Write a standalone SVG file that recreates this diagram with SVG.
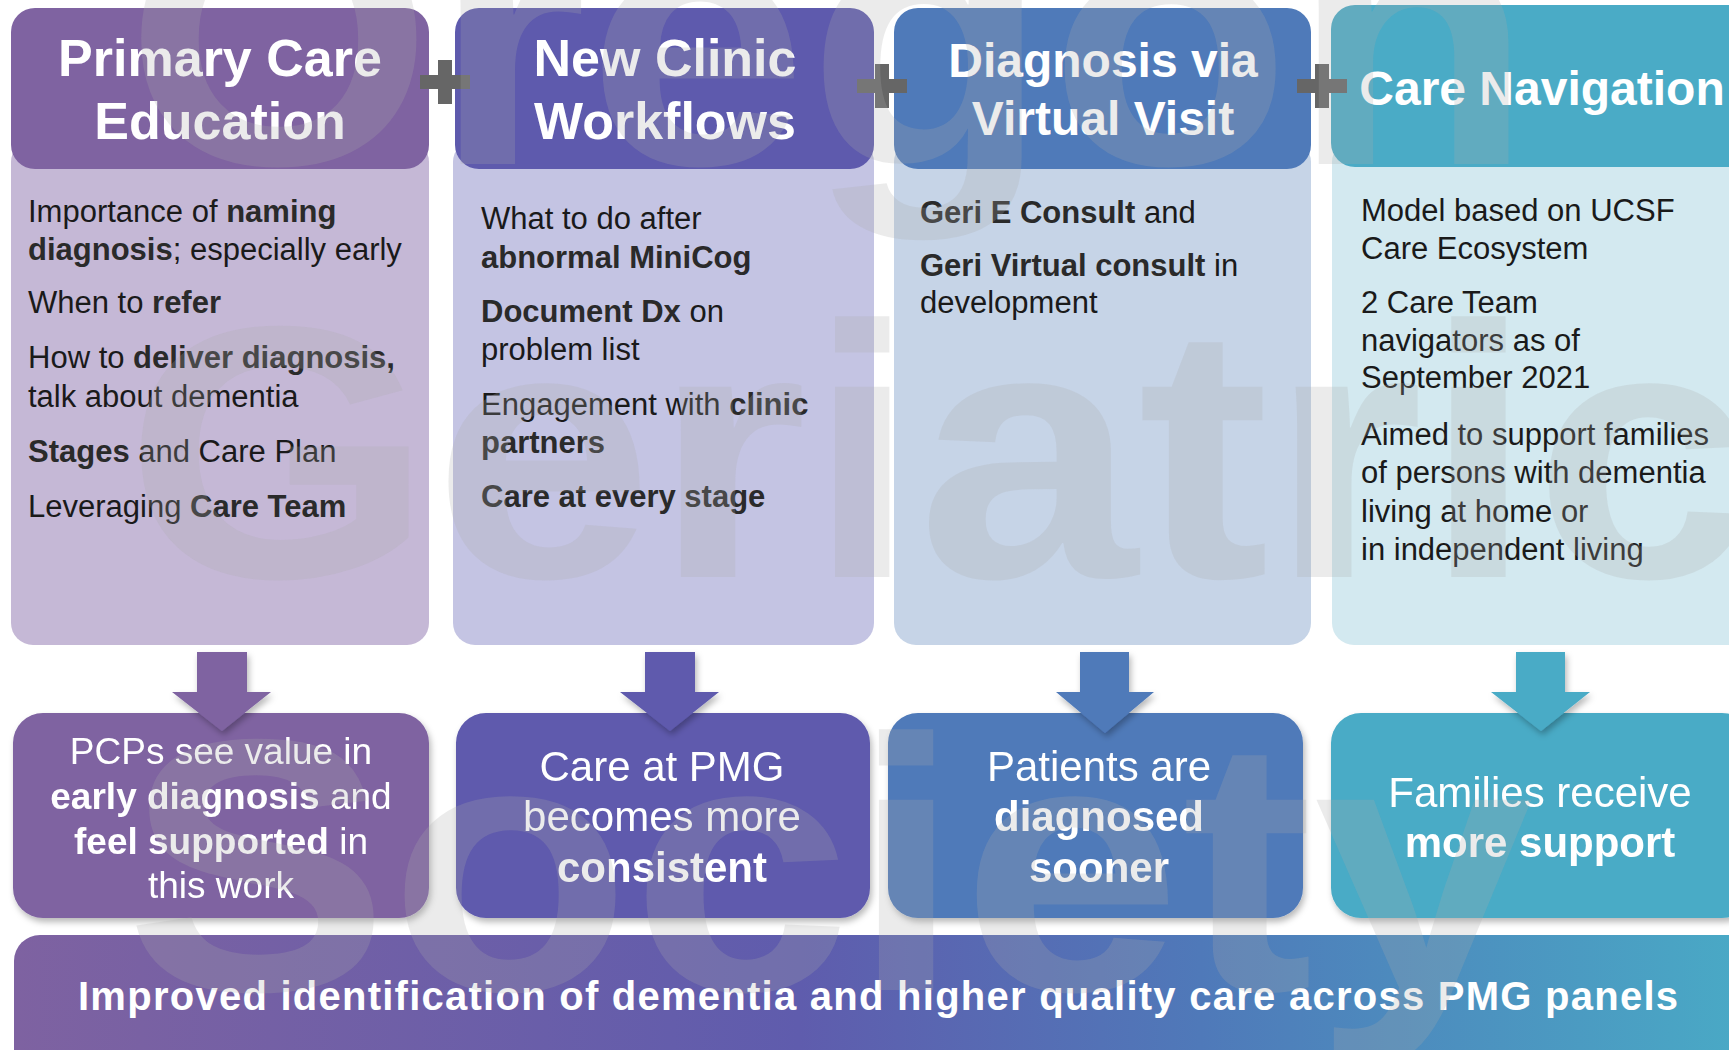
<svg xmlns="http://www.w3.org/2000/svg" width="1729" height="1050" viewBox="0 0 1729 1050">
<defs>
  <style>
    .hd{font-family:"Liberation Sans",Arial,sans-serif;font-weight:bold;fill:#ffffff;text-anchor:middle}
    .bd{font-family:"Liberation Sans",Arial,sans-serif;font-size:31px;fill:#1a1a1a}
    .b{font-weight:bold;fill:#2a2a2a}
    .rs{font-family:"Liberation Sans",Arial,sans-serif;fill:#ffffff;text-anchor:middle}
    .rb{font-weight:bold}
    .plus{fill:#666666}
    .wm{font-family:"Liberation Sans",Arial,sans-serif;font-weight:bold;font-size:360px;fill:#acacac;fill-opacity:0.24}
  </style>
  <filter id="sh" x="-10%" y="-10%" width="125%" height="130%">
    <feDropShadow dx="2" dy="4" stdDeviation="3" flood-color="#000000" flood-opacity="0.28"/>
  </filter>
  <linearGradient id="ban" x1="0" y1="0" x2="1" y2="0">
    <stop offset="0" stop-color="#7e62a1"/>
    <stop offset="0.45" stop-color="#5f5cad"/>
    <stop offset="0.68" stop-color="#4f79b9"/>
    <stop offset="1" stop-color="#49abc6"/>
  </linearGradient>
</defs>
<rect width="1729" height="1050" fill="#ffffff"/>

<!-- column 1 -->
<g id="primary-care-education">
  <rect x="11" y="140" width="418" height="505" rx="22" fill="#c5b8d6"/>
  <rect x="11" y="8" width="418" height="161" rx="24" fill="#7f63a1"/>
  <text class="hd" font-size="52" x="220" y="76">Primary Care</text>
  <text class="hd" font-size="52" x="220" y="139">Education</text>
  <text class="bd" x="28" y="222">Importance of <tspan class="b">naming</tspan></text>
  <text class="bd" x="28" y="260"><tspan class="b">diagnosis</tspan>;  especially early</text>
  <text class="bd" x="28" y="313">When to <tspan class="b">refer</tspan></text>
  <text class="bd" x="28" y="368">How to <tspan class="b">deliver diagnosis,</tspan></text>
  <text class="bd" x="28" y="407">talk about dementia</text>
  <text class="bd" x="28" y="462"><tspan class="b">Stages</tspan> and Care Plan</text>
  <text class="bd" x="28" y="517">Leveraging  <tspan class="b">Care Team</tspan></text>
</g>

<!-- column 2 -->
<g id="new-clinic-workflows">
  <rect x="453" y="140" width="421" height="505" rx="22" fill="#c4c4e3"/>
  <rect x="455" y="8" width="419" height="161" rx="24" fill="#5e5aad"/>
  <text class="hd" font-size="52" x="665" y="76">New Clinic</text>
  <text class="hd" font-size="52" x="665" y="139">Workflows</text>
  <text class="bd" x="481" y="229">What to do after</text>
  <text class="bd" x="481" y="268"><tspan class="b">abnormal  MiniCog</tspan></text>
  <text class="bd" x="481" y="322"><tspan class="b">Document Dx</tspan> on</text>
  <text class="bd" x="481" y="360">problem list</text>
  <text class="bd" x="481" y="415">Engagement with <tspan class="b">clinic</tspan></text>
  <text class="bd" x="481" y="453"><tspan class="b">partners</tspan></text>
  <text class="bd" x="481" y="507"><tspan class="b">Care at every stage</tspan></text>
</g>

<!-- column 3 -->
<g id="diagnosis-virtual-visit">
  <rect x="894" y="140" width="417" height="505" rx="22" fill="#c6d4e7"/>
  <rect x="894" y="8" width="417" height="161" rx="24" fill="#4f7ab9"/>
  <text class="hd" font-size="48" x="1103" y="77">Diagnosis via</text>
  <text class="hd" font-size="48" x="1103" y="135">Virtual Visit</text>
  <text class="bd" x="920" y="223"><tspan class="b">Geri E Consult</tspan> and</text>
  <text class="bd" x="920" y="276"><tspan class="b">Geri Virtual  consult</tspan>  in</text>
  <text class="bd" x="920" y="313">development</text>
</g>

<!-- column 4 -->
<g id="care-navigation">
  <rect x="1332" y="140" width="420" height="505" rx="22" fill="#d3e9f0"/>
  <rect x="1331" y="5" width="421" height="162" rx="24" fill="#4aabc6"/>
  <text class="hd" font-size="48" x="1542" y="105">Care Navigation</text>
  <text class="bd" x="1361" y="221">Model  based on UCSF</text>
  <text class="bd" x="1361" y="259">Care Ecosystem</text>
  <text class="bd" x="1361" y="313">2 Care Team</text>
  <text class="bd" x="1361" y="351">navigators  as of</text>
  <text class="bd" x="1361" y="388">September 2021</text>
  <text class="bd" x="1361" y="445">Aimed to support families</text>
  <text class="bd" x="1361" y="483">of persons with dementia</text>
  <text class="bd" x="1361" y="522">living at home or</text>
  <text class="bd" x="1361" y="560">in independent  living</text>
</g>

<!-- plus signs -->
<g id="plus-signs">
  <rect class="plus" x="420" y="75" width="50" height="14"/>
  <rect class="plus" x="438" y="60" width="14" height="44"/>
  <rect class="plus" x="857" y="79" width="50" height="14"/>
  <rect class="plus" x="875" y="64" width="14" height="44"/>
  <rect class="plus" x="1297" y="79" width="50" height="14"/>
  <rect class="plus" x="1315" y="64" width="14" height="44"/>
</g>

<!-- outcome nodes -->
<g id="outcome-pcps" filter="url(#sh)">
  <rect x="13" y="713" width="416" height="205" rx="30" fill="#7f63a1"/>
  <text class="rs" font-size="37" x="221" y="764">PCPs see value in</text>
  <text class="rs" font-size="37" x="221" y="809"><tspan class="rb">early diagnosis</tspan> and</text>
  <text class="rs" font-size="37" x="221" y="854"><tspan class="rb">feel supported</tspan> in</text>
  <text class="rs" font-size="37" x="221" y="898">this work</text>
</g>
<g id="outcome-care-pmg" filter="url(#sh)">
  <rect x="456" y="713" width="414" height="205" rx="30" fill="#5e5aad"/>
  <text class="rs" font-size="42" x="662" y="781">Care at PMG</text>
  <text class="rs" font-size="42" x="662" y="831">becomes  more</text>
  <text class="rs rb" font-size="42" x="662" y="882">consistent</text>
</g>
<g id="outcome-patients" filter="url(#sh)">
  <rect x="888" y="713" width="415" height="205" rx="30" fill="#4f7ab9"/>
  <text class="rs" font-size="42" x="1099" y="781">Patients  are</text>
  <text class="rs rb" font-size="42" x="1099" y="831">diagnosed</text>
  <text class="rs rb" font-size="42" x="1099" y="882">sooner</text>
</g>
<g id="outcome-families" filter="url(#sh)">
  <rect x="1331" y="713" width="421" height="205" rx="30" fill="#4aabc6"/>
  <text class="rs" font-size="42" x="1540" y="807">Families  receive</text>
  <text class="rs rb" font-size="42" x="1540" y="857">more support</text>
</g>

<!-- connectors -->
<g id="connectors" filter="url(#sh)">
  <polygon points="197,652 247,652 247,692 271,692 222,731 172,692 197,692" fill="#7f63a1"/>
  <polygon points="645,652 695,652 695,692 719,692 670,731 620,692 645,692" fill="#5e5aad"/>
  <polygon points="1080,652 1129,652 1129,692 1154,692 1105,733 1056,692 1080,692" fill="#4f7ab9"/>
  <polygon points="1516,652 1565,652 1565,692 1590,692 1541,731 1491,692 1516,692" fill="#4aabc6"/>
</g>

<!-- bottom banner -->
<g id="result-banner">
  <rect x="14" y="935" width="1745" height="150" rx="26" fill="url(#ban)"/>
  <text class="rs rb" font-size="40" x="878" y="1010" textLength="1600" lengthAdjust="spacing">Improved identification of dementia and higher quality care across PMG panels</text>
</g>

<!-- watermark -->
<g id="watermark" transform="translate(125 0) scale(1.1 1)">
  <text class="wm" x="0" y="164">Oregon</text>
  <text class="wm" x="0" y="577">Geriatric</text>
  <text class="wm" x="0" y="990">Society</text>
</g>
</svg>
